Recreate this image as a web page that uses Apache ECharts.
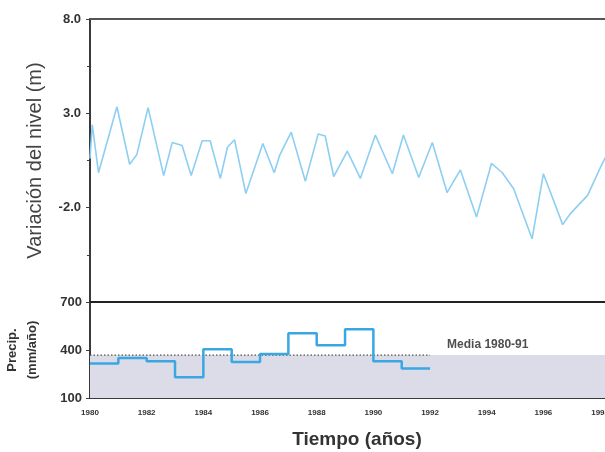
<!DOCTYPE html>
<html>
<head>
<meta charset="utf-8">
<script src="https://cdn.jsdelivr.net/npm/echarts@6/dist/echarts.min.js"></script>
<style>html,body{margin:0;padding:0;background:#fff;}#c{width:605px;height:452px;}</style>
</head>
<body>
<div id="c"></div>
<script>
// Water-level variation (m), [year] and [value]
const levelYears = [1980.0,1980.08,1980.3,1980.95,1981.4,1981.65,1982.05,1982.6,1982.9,1983.25,1983.57,1983.96,1984.24,1984.6,1984.85,1985.1,1985.5,1986.1,1986.5,1986.7,1987.1,1987.6,1988.05,1988.3,1988.6,1989.08,1989.54,1990.07,1990.67,1991.06,1991.6,1992.08,1992.6,1993.07,1993.64,1994.17,1994.55,1994.95,1995.6,1996.0,1996.68,1996.96,1997.56,1998.0,1998.2];
const levels = [0.6,2.4,-0.15,3.35,0.3,0.8,3.3,-0.3,1.45,1.3,-0.3,1.55,1.55,-0.45,1.2,1.6,-1.25,1.4,-0.15,0.8,2.0,-0.6,1.9,1.8,-0.35,1.0,-0.45,1.85,-0.2,1.85,-0.4,1.45,-1.2,0.0,-2.5,0.35,-0.15,-1.0,-3.65,-0.2,-2.9,-2.3,-1.35,0.1,0.7];
// Annual precipitation (mm/año)
const precipYears = [1980,1981,1982,1983,1984,1985,1986,1987,1988,1989,1990,1991];
const precip = [315,350,330,230,405,325,375,505,430,530,330,285];
const meanPrecip = 368;
const meanLabel = 'Media 1980-91';
const xTicks = ['1980','1982','1984','1986','1988','1990','1992','1994','1996','1998'];

const FONT = '"Liberation Sans", Arial, sans-serif';
const AX = '#3a3a3a';
const XMAX = 1998.35;

const levelData = levelYears.map((y, i) => [y, levels[i]]);
const precipData = precipYears.map((y, i) => [y, precip[i]]);
precipData.push([precipYears[precipYears.length - 1] + 1, precip[precip.length - 1]]);

const chart = echarts.init(document.getElementById('c'), null, {renderer: 'canvas'});
chart.setOption({
  backgroundColor: '#ffffff',
  animation: false,
  grid: [
    {left: 90, top: 19, width: 520, height: 283, containLabel: false, outerBoundsMode: 'none'},
    {left: 90, top: 302, width: 520, height: 96, containLabel: false, outerBoundsMode: 'none'}
  ],
  xAxis: [
    {type: 'value', gridIndex: 0, min: 1980, max: XMAX, interval: 2, position: 'bottom',
     axisLine: {show: true, onZero: false, lineStyle: {color: '#222', width: 2}}, axisTick: {show: false},
     axisLabel: {show: false}, splitLine: {show: false}},
    {type: 'value', gridIndex: 0, min: 1980, max: XMAX, interval: 2, position: 'top',
     axisLine: {show: true, onZero: false, lineStyle: {color: '#555', width: 2}}, axisTick: {show: false},
     axisLabel: {show: false}, splitLine: {show: false}},
    {type: 'value', gridIndex: 1, min: 1980, max: XMAX, interval: 2, position: 'bottom',
     axisLine: {show: true, onZero: false, lineStyle: {color: AX, width: 2}},
     axisTick: {show: true, inside: true, length: 3, lineStyle: {color: AX}},
     axisLabel: {show: true, margin: 11, fontFamily: FONT, fontSize: 8, fontWeight: 'bold', color: '#333',
       formatter: v => (Math.abs(v - Math.round(v)) < 1e-6 && xTicks.includes(String(Math.round(v)))) ? String(Math.round(v)) : ''},
     splitLine: {show: false},
     name: 'Tiempo (años)', nameLocation: 'middle', nameGap: 32,
     nameTextStyle: {fontFamily: FONT, fontSize: 19, fontWeight: 'bold', color: '#333', padding: [0, 0, 0, 14]}}
  ],
  yAxis: [
    {type: 'value', gridIndex: 0, min: -7, max: 8, interval: 5,
     axisLine: {show: true, onZero: false, lineStyle: {color: AX, width: 2}},
     axisTick: {show: true, length: 4, lineStyle: {color: AX}},
     minorTick: {show: true, splitNumber: 2, length: 3, lineStyle: {color: AX}},
     axisLabel: {fontFamily: FONT, fontSize: 13, fontWeight: 'bold', color: '#333', margin: 9,
       formatter: v => v <= -6.9 ? '' : v.toFixed(1)},
     splitLine: {show: false},
     name: 'Variación del nivel (m)', nameLocation: 'middle', nameGap: 45,
     nameTextStyle: {fontFamily: FONT, fontSize: 20, color: '#444'}},
    {type: 'value', gridIndex: 1, min: 100, max: 700, interval: 300,
     axisLine: {show: true, onZero: false, lineStyle: {color: AX, width: 2}},
     axisTick: {show: true, length: 4, lineStyle: {color: AX}},
     axisLabel: {fontFamily: FONT, fontSize: 13, fontWeight: 'bold', color: '#333', margin: 8},
     splitLine: {show: false},
     name: 'Precip.\n(mm/año)', nameLocation: 'middle', nameGap: 48,
     nameTextStyle: {fontFamily: FONT, fontSize: 13, fontWeight: 'bold', color: '#333', lineHeight: 20}}
  ],
  series: [
    {type: 'line', xAxisIndex: 0, yAxisIndex: 0, data: levelData, symbol: 'none',
     lineStyle: {color: '#8ccff2', width: 1.6}},
    {type: 'line', xAxisIndex: 2, yAxisIndex: 1, data: [[1980, meanPrecip], [XMAX, meanPrecip]],
     symbol: 'none', lineStyle: {width: 0, opacity: 0}, silent: true,
     markArea: {silent: true, itemStyle: {color: '#dcdce9', opacity: 1},
       data: [[{coord: [1980, 100]}, {coord: [XMAX, meanPrecip]}]]}},
    {type: 'line', xAxisIndex: 2, yAxisIndex: 1, data: [[1980, meanPrecip], [1992, meanPrecip]],
     symbol: 'none', lineStyle: {color: '#555', width: 1.2, type: [1.5, 2]}},
    {type: 'line', xAxisIndex: 2, yAxisIndex: 1, data: precipData, step: 'end', symbol: 'none',
     lineStyle: {color: '#3aa6e2', width: 2.5}},
    {type: 'scatter', xAxisIndex: 2, yAxisIndex: 1, data: [[1992.6, 432]], symbolSize: 0,
     label: {show: true, position: 'right', distance: 0, formatter: meanLabel,
       fontFamily: FONT, fontSize: 12, fontWeight: 'bold', color: '#222'}}
  ]
});
</script>
</body>
</html>
